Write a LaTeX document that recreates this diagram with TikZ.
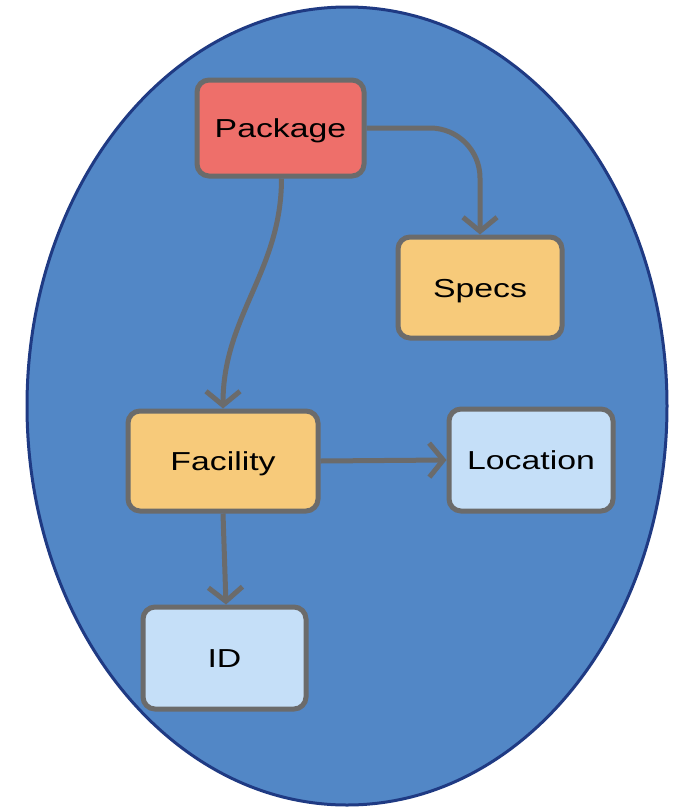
\documentclass[tikz,border=0pt]{standalone}
\usepackage{fontspec}
\setmainfont{Liberation Sans}
\usetikzlibrary{arrows.meta}
\definecolor{oval}{HTML}{5287C6}
\definecolor{ovalrim}{HTML}{1F3A83}
\definecolor{rim}{HTML}{6B6B6B}
\definecolor{redbox}{HTML}{EE6F6A}
\definecolor{orangebox}{HTML}{F7CA7A}
\definecolor{bluebox}{HTML}{C5DFF8}
\newcommand{\lbl}[1]{\scalebox{1.3}[1]{#1}}
\tikzset{
  box/.style={draw=rim, line width=5pt, rounded corners=12pt, minimum height=#1,
    inner sep=0pt, text height=22pt, text depth=3pt,
    font=\fontsize{26}{30}\selectfont, text=black},
  box/.default=100pt,
  link/.style={draw=rim, line width=5pt,
    -{Straight Barb[length=14pt, width=34pt, line width=5pt]}},
}
\begin{document}
\begin{tikzpicture}[x=1pt, y=-1pt]
  \useasboundingbox (0,0) rectangle (674,809);
  % enclosing oval
  \draw[ovalrim, fill=oval, line width=3pt] (347,406) ellipse [x radius=320, y radius=399];
  % boxes
  \node[box=96pt, fill=redbox, minimum width=167pt] (pkg) at (280.5,128) {\lbl{Package}};
  \node[box=101pt, fill=orangebox, minimum width=164pt] (specs) at (480,287.5) {\lbl{Specs}};
  \node[box=100pt, fill=orangebox, minimum width=190pt] (fac) at (223,461) {\lbl{Facility}};
  \node[box=102pt, fill=bluebox, minimum width=164pt] (loc) at (531,460) {\lbl{Location}};
  \node[box=102pt, fill=bluebox, minimum width=163pt] (id) at (224.5,658) {\lbl{ID}};
  % connectors
  \draw[link, rounded corners=50pt] (pkg.east) -| (specs.north);
  \draw[link] ([xshift=1pt]pkg.south) to[out=-90, in=90] (fac.north);
  \draw[link] (fac.east) -- (loc.west);
  \draw[link] (fac.south) -- ([xshift=1.5pt]id.north);
\end{tikzpicture}
\end{document}
